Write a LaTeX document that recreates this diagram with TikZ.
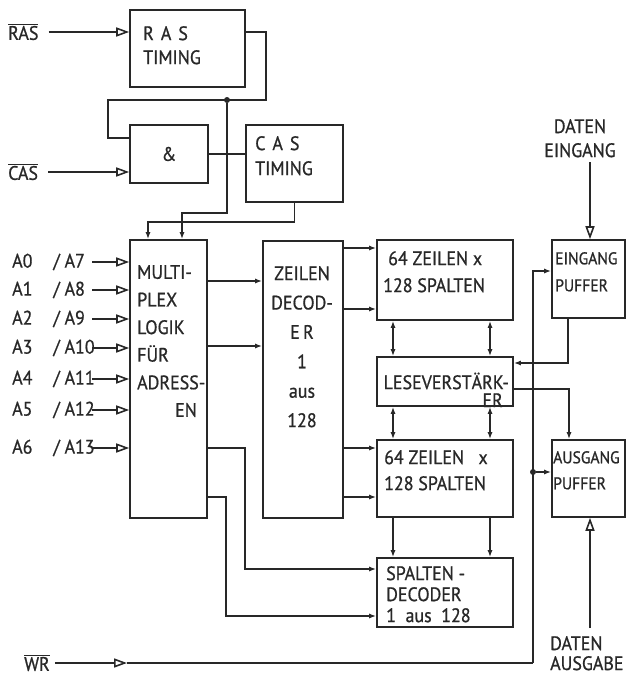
\documentclass[tikz,border=0pt]{standalone}
\usepackage{fontspec}
\setmainfont{PT Sans}[FakeStretch=0.92, FakeBold=0.8]
\usetikzlibrary{arrows.meta}
\definecolor{ink}{RGB}{40,40,40}
\tikzset{
  blk/.style={draw=ink, line width=1.6pt, inner sep=0pt, font=\fontsize{19.5}{22}\selectfont, text=ink},
  txt/.style={font=\fontsize{19.5}{#1}\selectfont, text=ink, inner sep=0pt, align=left, anchor=north west},
  txt/.default=27,
  sig/.style={line width=1.6pt, draw=ink},
  inarr/.style={sig, -{Triangle[open, length=13pt, width=9pt]}},
  flowarr/.style={sig, -{Latex[length=7pt, width=5pt]}},
  twoway/.style={sig, {Latex[length=7pt, width=5pt]}-{Latex[length=7pt, width=5pt]}},
  jdot/.style={circle, fill=ink, inner sep=0pt, minimum size=6pt},
}

\begin{document}
\begin{tikzpicture}[x=1pt,y=-1pt]
  \useasboundingbox (0,0) rectangle (627,677);
  \node[blk, minimum width=115, minimum height=77] (rast) at (187.5,48.5) {};
  \node[blk, minimum width=78, minimum height=58] (andg) at (169,154) {\&};
  \node[blk, minimum width=97, minimum height=77] (cast) at (294.5,163.5) {};
  \node[blk, minimum width=77, minimum height=278] (mux) at (168.5,379) {};
  \node[blk, minimum width=80, minimum height=277] (zdec) at (303,379.5) {};
  \node[blk, minimum width=136, minimum height=80] (arra) at (445,280) {};
  \node[blk, minimum width=136, minimum height=49] (lese) at (445,381.5) {};
  \node[blk, minimum width=136, minimum height=77] (arrb) at (445,478.5) {};
  \node[blk, minimum width=136, minimum height=69] (sdec) at (445,592.5) {};
  \node[blk, minimum width=73, minimum height=78] (einp) at (588.5,279) {};
  \node[blk, minimum width=73, minimum height=77] (ausp) at (588.5,478.5) {};

  \node[txt=24] (rast-t) at (143,26) {R\hspace{7pt}A\hspace{7pt}S\\TIMING};
  \node[txt=25] (cast-t) at (255,136) {C\hspace{7pt}A\hspace{7pt}S\\TIMING};
  \node[txt=27.6] (mux-t) at (137,265) {MULTI-\\PLEX\\LOGIK\\FÜR\\ADRESS-\\\hspace*{38pt}EN};
  \node[txt=29.4, align=center, anchor=north] (zdec-t) at (302,266) {ZEILEN\\DECOD-\\E\,R\\1\\aus\\128};
  \node[txt] (arra-t) at (383,251) {\hspace*{5pt}64 ZEILEN\ x\\128 SPALTEN};
  \node[txt=18, align=right, anchor=north east] (lese-t) at (509,375) {LESEVERST\smash{Ä}RK-\\ER\hspace*{6pt}};
  \node[txt=26] (arrb-t) at (384,450) {64 ZEILEN\ \ \ x\\128 SPALTEN};
  \node[txt=21] (sdec-t) at (386,566) {SPALTEN -\\DECODER\\1\ \ aus\ \ 128};
  \node[txt, font=\fontsize{17}{27}\selectfont] (einp-t) at (555,252) {EINGANG\\PUFFER};
  \node[txt, font=\fontsize{17}{26}\selectfont] (ausp-t) at (553,451) {AUSGANG\\PUFFER};
  \node[txt=24, align=center, anchor=north] (dein) at (580,119) {DATEN\\EINGANG};
  \node[txt=20] (daus) at (550,636) {DATEN\\AUSGABE};

  \node[txt, anchor=west] (ras) at (8,32) {$\overline{\mbox{RAS}}$};
  \node[txt, anchor=west] (cas) at (8,172) {$\overline{\mbox{CAS}}$};
  \node[txt, anchor=west] (wr) at (24,663) {$\overline{\mbox{WR}}$};

  \coordinate (rasbend) at (266,100);
  \coordinate (andin) at (108,138);
  \coordinate (muxin1) at (182,213);
  \coordinate (muxin2) at (148,222);
  \node[jdot] (rasj) at (227,100) {};
  \draw[inarr] ([xshift=10pt]ras.east) -- (ras -| rast.west);
  \draw[sig] (rast.east |- ras) -| (rasbend) -- (rasj.center) -- (rasj -| andin) -- (andin) -- (andin -| andg.west);
  \draw[flowarr] (rasj) |- (muxin1) -- (muxin1 |- mux.north);
  \draw[inarr] ([xshift=10pt]cas.east) -- (cas -| andg.west);
  \draw[sig] (andg.east) -- (andg.east -| cast.west);
  \draw[flowarr] (cast.south) |- (muxin2) -- (muxin2 |- mux.north);

  \foreach \i/\j/\y in {0/7/262,1/8/290,2/9/319,3/10/348,4/11/379,5/12/410,6/13/448}{
    \node[txt, anchor=west] (a\i) at (12,\y) {A\i\hspace{21pt}/\ A\j};
    \coordinate (ain\i) at (92,\y);
    \draw[inarr] (ain\i) -- (ain\i -| mux.west);
  }

  \coordinate (lvA) at (0,248);
  \coordinate (lvB) at (0,309);
  \coordinate (lvC) at (0,448);
  \coordinate (lvD) at (0,497);
  \coordinate (lvE) at (0,281);
  \coordinate (lvF) at (0,346);
  \coordinate (colL) at (393,0);
  \coordinate (colR) at (490,0);
  \coordinate (sd1) at (245,569);
  \coordinate (sd2) at (226,616);
  \draw[flowarr] (mux.east |- lvE) -- (zdec.west |- lvE);
  \draw[flowarr] (mux.east |- lvF) -- (zdec.west |- lvF);
  \draw[flowarr] (mux.east |- lvC) -| (sd1) -- (sd1 -| sdec.west);
  \draw[flowarr] (mux.east |- lvD) -| (sd2) -- (sd2 -| sdec.west);
  \foreach \lv in {lvA,lvB} \draw[flowarr] (zdec.east |- \lv) -- (arra.west |- \lv);
  \foreach \lv in {lvC,lvD} \draw[flowarr] (zdec.east |- \lv) -- (arrb.west |- \lv);
  \foreach \c in {colL,colR}{
    \draw[twoway] (arra.south -| \c) -- (lese.north -| \c);
    \draw[twoway] (lese.south -| \c) -- (arrb.north -| \c);
    \draw[flowarr] (arrb.south -| \c) -- (sdec.north -| \c);
  }

  \coordinate (dinx) at (590,162);
  \coordinate (doutx) at (590,628);
  \coordinate (einout) at (568,363);
  \coordinate (leseout) at (569,389);
  \draw[inarr] (dinx) -- (dinx |- einp.north);
  \draw[inarr] (doutx) -- (doutx |- ausp.south);
  \draw[flowarr] (einp.south -| einout) -- (einout) -- (einout -| lese.east);
  \draw[flowarr] (lese.east |- leseout) -- (leseout) -- (leseout |- ausp.north);

  \coordinate (wrtip) at (127,663);
  \coordinate (wrbus) at (533,663);
  \coordinate (wrein) at (533,271);
  \node[jdot] (wrj) at (533,472) {};
  \draw[inarr] ([xshift=5pt]wr.east) -- (wrtip);
  \draw[sig] (wrtip) -- (wrbus);
  \draw[flowarr] (wrbus) -- (wrein) -- (wrein -| einp.west);
  \draw[flowarr] (wrj) -- (wrj -| ausp.west);
\end{tikzpicture}
\end{document}
